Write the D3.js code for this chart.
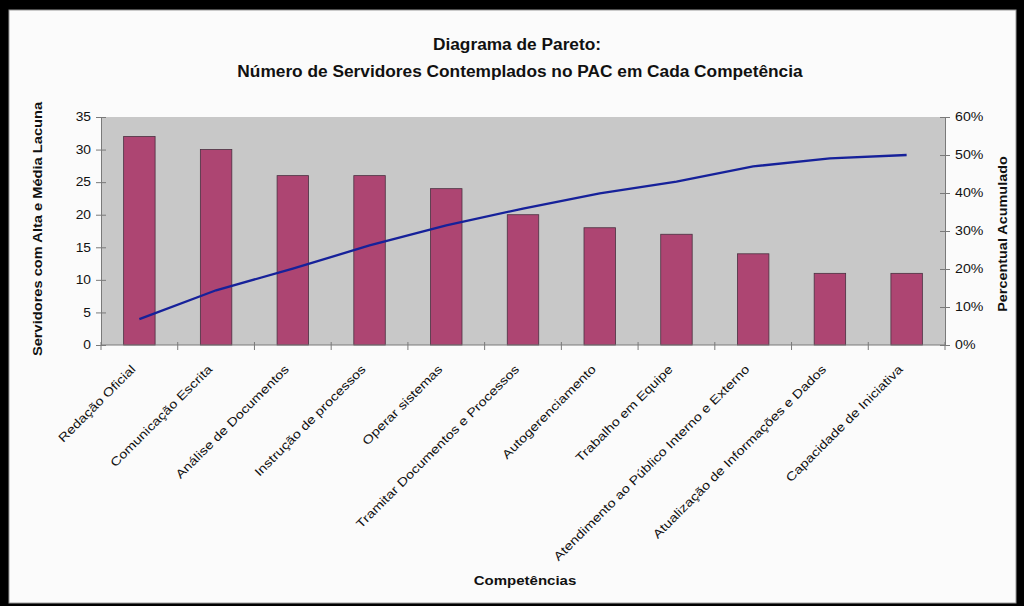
<!DOCTYPE html>
<html>
<head>
<meta charset="utf-8">
<script src="https://cdn.jsdelivr.net/npm/d3@7"></script>
<style>
  html, body { margin: 0; padding: 0; background: #000; }
  svg { display: block; }
  text { font-family: "Liberation Sans", Arial, sans-serif; fill: #111; }
</style>
</head>
<body>
<svg id="chart" width="1024" height="606"></svg>
<script>
// Competências e número de servidores (barras)
const categories = [
  "Redação Oficial",
  "Comunicação Escrita",
  "Análise de Documentos",
  "Instrução de processos",
  "Operar sistemas",
  "Tramitar Documentos e Processos",
  "Autogerenciamento",
  "Trabalho em Equipe",
  "Atendimento ao Público Interno e Externo",
  "Atualização de Informações e Dados",
  "Capacidade de Iniciativa"
];
const servidores = [32, 30, 26, 26, 24, 20, 18, 17, 14, 11, 11];
// Percentual acumulado (linha, eixo secundário)
const percentualAcumulado = [0.068, 0.144, 0.201, 0.262, 0.315, 0.359, 0.399, 0.430, 0.470, 0.491, 0.500];
const leftTicks = [0, 5, 10, 15, 20, 25, 30, 35];
const rightTicks = [0, 0.1, 0.2, 0.3, 0.4, 0.5, 0.6];

const titleLines = ["Diagrama de Pareto:", "Número de Servidores Contemplados no PAC em Cada Competência"];

const svg = d3.select("#chart");

// Alarga o texto horizontalmente (fonte larga, como no Excel)
function widen(sel, factor) {
  sel.each(function () {
    const len = this.getComputedTextLength();
    d3.select(this).attr("textLength", len * factor).attr("lengthAdjust", "spacingAndGlyphs");
  });
}

// Moldura
svg.append("rect").attr("x", 0).attr("y", 0).attr("width", 1024).attr("height", 606).attr("fill", "#000");
svg.append("rect").attr("x", 9).attr("y", 10).attr("width", 1007).attr("height", 593)
  .attr("fill", "#fbfbfb").attr("stroke", "#9a9a9a").attr("stroke-width", 1);

const plot = { left: 101, right: 945, top: 117, bottom: 345 };

const x = d3.scaleBand().domain(categories).range([plot.left, plot.right]).paddingInner(0).paddingOuter(0);
const y = d3.scaleLinear().domain([0, 35]).range([plot.bottom, plot.top]);
const y2 = d3.scaleLinear().domain([0, 0.6]).range([plot.bottom, plot.top]);

// Área de plotagem
svg.append("rect").attr("x", plot.left).attr("y", plot.top)
  .attr("width", plot.right - plot.left).attr("height", plot.bottom - plot.top)
  .attr("fill", "#c8c8c8");

// Barras
const barW = x.bandwidth() * 0.41;
svg.append("g").selectAll("rect").data(servidores).join("rect")
  .attr("x", (d, i) => x(categories[i]) + x.bandwidth() / 2 - barW / 2)
  .attr("y", d => y(d))
  .attr("width", barW)
  .attr("height", d => y(0) - y(d))
  .attr("fill", "#ad4572")
  .attr("stroke", "#4a3040")
  .attr("stroke-width", 0.8);

// Linha do percentual acumulado
const line = d3.line()
  .x((d, i) => x(categories[i]) + x.bandwidth() / 2)
  .y(d => y2(d));
svg.append("path").datum(percentualAcumulado)
  .attr("d", line)
  .attr("fill", "none")
  .attr("stroke", "#16219a")
  .attr("stroke-width", 2.3);

// Eixo esquerdo
const axisColor = "#7a7a7a";
const gl = svg.append("g").attr("transform", `translate(${plot.left},0)`)
  .call(d3.axisLeft(y).tickValues(leftTicks).tickSize(5).tickSizeOuter(0));
gl.select(".domain").attr("stroke", axisColor);
gl.selectAll(".tick line").attr("stroke", axisColor).attr("x1", 5).attr("x2", -5);
gl.selectAll(".tick text").attr("x", -10).style("font-size", "12px")
  .style("font-family", "Liberation Sans, Arial, sans-serif").attr("fill", "#222")
  .call(widen, 1.15);

// Eixo direito
const gr = svg.append("g").attr("transform", `translate(${plot.right},0)`)
  .call(d3.axisRight(y2).tickValues(rightTicks).tickFormat(d3.format(".0%")).tickSize(5).tickSizeOuter(0));
gr.select(".domain").attr("stroke", axisColor);
gr.selectAll(".tick line").attr("stroke", axisColor).attr("x1", -5).attr("x2", 5);
gr.selectAll(".tick text").attr("x", 10).style("font-size", "12px")
  .style("font-family", "Liberation Sans, Arial, sans-serif").attr("fill", "#222")
  .call(widen, 1.18);

// Eixo das categorias
const xBound = d3.scaleLinear().domain([0, categories.length]).range([plot.left, plot.right]);
const gx = svg.append("g");
gx.append("line").attr("x1", plot.left).attr("x2", plot.right).attr("y1", plot.bottom).attr("y2", plot.bottom).attr("stroke", axisColor);
gx.selectAll("line.tk").data(d3.range(categories.length + 1)).join("line").attr("class", "tk")
  .attr("x1", d => xBound(d)).attr("x2", d => xBound(d))
  .attr("y1", plot.bottom - 3).attr("y2", plot.bottom + 5)
  .attr("stroke", axisColor);

gx.selectAll("text").data(categories).join("text")
  .attr("transform", d => `translate(${x(d) + x.bandwidth() / 2 - 6},${plot.bottom + 22}) rotate(-45)`)
  .attr("text-anchor", "end")
  .attr("dy", "0.35em")
  .style("font-size", "12px")
  .attr("fill", "#222")
  .text(d => d)
  .call(widen, 1.22);

// Títulos
svg.append("text").attr("x", 517).attr("y", 50).attr("text-anchor", "middle")
  .style("font-size", "16px").style("font-weight", "bold").text(titleLines[0])
  .call(widen, 1.08);
svg.append("text").attr("x", 520).attr("y", 77).attr("text-anchor", "middle")
  .style("font-size", "16px").style("font-weight", "bold").text(titleLines[1])
  .call(widen, 1.08);

svg.append("text")
  .attr("transform", `translate(42,${(plot.top + plot.bottom) / 2 - 2}) rotate(-90)`)
  .attr("text-anchor", "middle")
  .style("font-size", "12px").style("font-weight", "bold")
  .text("Servidores com Alta e Média Lacuna")
  .call(widen, 1.22);

svg.append("text")
  .attr("transform", `translate(1007,${(plot.top + plot.bottom) / 2 + 3}) rotate(-90)`)
  .attr("text-anchor", "middle")
  .style("font-size", "12px").style("font-weight", "bold")
  .text("Percentual Acumulado")
  .call(widen, 1.2);

svg.append("text").attr("x", 525).attr("y", 585).attr("text-anchor", "middle")
  .style("font-size", "12px").style("font-weight", "bold").text("Competências")
  .call(widen, 1.25);
</script>
</body>
</html>
